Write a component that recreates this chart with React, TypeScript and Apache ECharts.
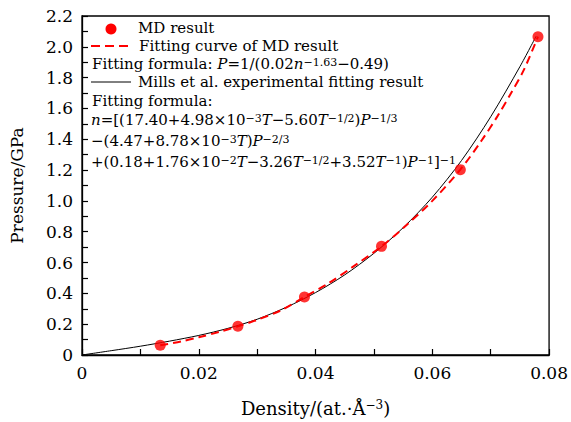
import React, { useEffect, useRef } from "react";
import * as echarts from "echarts";

const mdDensity = [0.0134, 0.0267, 0.0381, 0.0513, 0.0648, 0.0781];
const mdPressure = [0.063, 0.186, 0.377, 0.705, 1.203, 2.066];

const fitDensity = [0.0134, 0.017, 0.02, 0.0235, 0.0267, 0.03, 0.0341, 0.0381, 0.042, 0.0465, 0.0513, 0.0555, 0.06, 0.0648, 0.0685, 0.0712, 0.0735, 0.0757, 0.0781];
const fitPressure = [0.063, 0.088, 0.115, 0.15, 0.186, 0.228, 0.29, 0.377, 0.46, 0.575, 0.705, 0.84, 1.0, 1.203, 1.395, 1.552, 1.7, 1.852, 2.066];

const millsDensity = [0, 0.005, 0.01, 0.015, 0.02, 0.025, 0.03, 0.035, 0.04, 0.045, 0.05, 0.055, 0.06, 0.065, 0.07, 0.075, 0.0778];
const millsPressure = [0, 0.028, 0.057, 0.09, 0.127, 0.173, 0.232, 0.31, 0.405, 0.52, 0.66, 0.826, 1.024, 1.262, 1.546, 1.871, 2.07];

const FONT = "DejaVu Serif";
const FS = 15;

const rich = {
  a: { fontFamily: FONT, fontSize: FS, color: "#000" },
  i: { fontFamily: FONT, fontSize: FS, fontStyle: "italic", color: "#000" },
  s: { fontFamily: FONT, fontSize: 11, color: "#000", verticalAlign: "top" },
  A: { fontFamily: FONT, fontSize: 18, color: "#000" },
  S: { fontFamily: FONT, fontSize: 12, color: "#000", verticalAlign: "top" },
};

export default function App() {
  const ref = useRef<HTMLDivElement>(null);
  useEffect(() => {
    if (!ref.current) return;
    const chart = echarts.init(ref.current, undefined, { renderer: "svg" });
    const zip = (xs: number[], ys: number[]) => xs.map((x, i) => [x, ys[i]]);
    const textEl = (x: number, y: number, text: string) => ({
      type: "text",
      x,
      y,
      style: { text, rich, textVerticalAlign: "middle", fill: "#000", fontFamily: FONT, fontSize: FS },
      z: 100,
    });
    chart.setOption({
      animation: false,
      textStyle: { fontFamily: FONT },
      grid: { left: 80, right: 19, top: 16, bottom: 64, show: true, borderColor: "#000", borderWidth: 1.3, backgroundColor: "transparent" },
      xAxis: {
        type: "value",
        min: 0,
        max: 0.08,
        interval: 0.01,
        name: "{A|Density/(at.·Å}{S|−3}{A|)}",
        nameLocation: "middle",
        nameGap: 44,
        nameTextStyle: { rich, fontFamily: FONT },
        axisLine: { lineStyle: { color: "#000", width: 1.3 } },
        axisTick: { inside: true, length: 6, lineStyle: { color: "#000", width: 1.2 } },
        splitLine: { show: false },
        axisLabel: {
          color: "#000",
          fontFamily: FONT,
          fontSize: 17,
          margin: 9,
          formatter: (v: number) => {
            const k = Math.round(v * 100);
            if (k % 2 !== 0) return "";
            return k === 0 ? "0" : (k / 100).toFixed(2);
          },
        },
      },
      yAxis: {
        type: "value",
        min: 0,
        max: 2.2,
        interval: 0.1,
        name: "Pressure/GPa",
        nameLocation: "middle",
        nameGap: 57,
        nameTextStyle: { color: "#000", fontFamily: FONT, fontSize: 17 },
        axisLine: { show: true, lineStyle: { color: "#000", width: 1.3 } },
        axisTick: { inside: true, length: 6, lineStyle: { color: "#000", width: 1.2 } },
        splitLine: { show: false },
        axisLabel: {
          color: "#000",
          fontFamily: FONT,
          fontSize: 17,
          margin: 9,
          formatter: (v: number) => {
            const k = Math.round(v * 10);
            if (k % 2 !== 0) return "";
            return k === 0 ? "0" : (k / 10).toFixed(1);
          },
        },
      },
      series: [
        {
          type: "line",
          data: zip(millsDensity, millsPressure),
          smooth: 0.3,
          showSymbol: false,
          lineStyle: { color: "#000", width: 1 },
          z: 2,
        },
        {
          type: "line",
          data: zip(fitDensity, fitPressure),
          smooth: 0.3,
          showSymbol: false,
          lineStyle: { color: "#ff0000", width: 2, type: [8, 5] },
          z: 3,
        },
        {
          type: "scatter",
          data: zip(mdDensity, mdPressure),
          symbolSize: 11,
          itemStyle: { color: "#ff0000" },
          z: 4,
        },
      ],
      graphic: [
        { type: "circle", shape: { cx: 111, cy: 29, r: 5.5 }, style: { fill: "#ff0000" }, z: 100 },
        { type: "line", shape: { x1: 91, y1: 46, x2: 131, y2: 46 }, style: { stroke: "#ff0000", lineWidth: 2, lineDash: [9, 5] }, z: 100 },
        { type: "line", shape: { x1: 91, y1: 82, x2: 131, y2: 82 }, style: { stroke: "#000", lineWidth: 1 }, z: 100 },
        textEl(138, 28, "{a|MD result}"),
        textEl(139, 46, "{a|Fitting curve of MD result}"),
        textEl(92, 64, "{a|Fitting formula: }{i|P}{a|=1/(0.02}{i|n}{s|−1.63}{a|−0.49)}"),
        textEl(138, 82, "{a|Mills et al. experimental fitting result}"),
        textEl(92, 101, "{a|Fitting formula:}"),
        textEl(91, 120, "{i|n}{a|=[(17.40+4.98×10}{s|−3}{i|T}{a|−5.60}{i|T}{s|−1/2}{a|)}{i|P}{s|−1/3}"),
        textEl(91, 141, "{a|−(4.47+8.78×10}{s|−3}{i|T}{a|)}{i|P}{s|−2/3}"),
        textEl(91, 162, "{a|+(0.18+1.76×10}{s|−2}{i|T}{a|−3.26}{i|T}{s|−1/2}{a|+3.52}{i|T}{s|−1}{a|)}{i|P}{s|−1}{a|]}{s|−1}"),
      ],
    });
    return () => chart.dispose();
  }, []);
  return <div ref={ref} style={{ width: 571, height: 422, position: "absolute", left: 0, top: 0 }} />;
}
